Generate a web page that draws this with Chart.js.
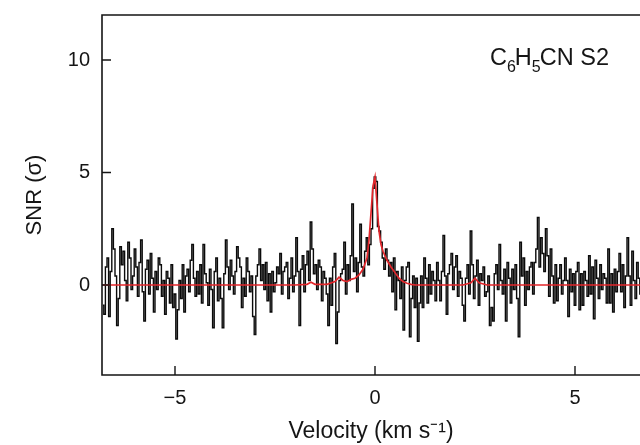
<!DOCTYPE html>
<html>
<head>
<meta charset="utf-8">
<script src="https://cdn.jsdelivr.net/npm/chart.js@4"></script>
<style>
  html, body { margin: 0; padding: 0; background: #fff; overflow: hidden; }
  #c { display: block; }
</style>
</head>
<body>
<canvas id="c" width="640" height="445"></canvas>
<script>
// spectrum channels: start velocity and channel width (km/s)
const velocityStart = -6.8;
const channelWidth = 0.04;
// SNR per channel (10 channels = 0.4 km/s per row)
const snr = [
  -0.9, -1.3, 0.8, 1.2, -1.4, 0.6, 2.5, 1.6, 0.4, -1.8,
  -0.6, 1.7, 0.9, 1.5, 0.2, -0.7, 1.9, 1.2, -0.2, 0.4,
  1.6, 0.8, -0.5, 1.0, 2.0, -0.3, -1.6, 0.7, 1.1, -0.4,
  1.4, 0.3, -1.2, 0.6, -0.2, 1.2, 0.9, -0.5, 0.2, -1.3,
  0.6, 0.3, -0.8, 0.9, -1.0, -0.4, -2.4, -1.1, 0.2, -0.6,
  0.9, -1.2, 0.4, 0.7, -0.3, 1.1, 1.8, 0.3, -0.5, 0.6,
  -0.4, 0.9, -0.8, 1.8, 0.5, 0.1, -0.9, 0.7, -0.2, -1.9,
  0.6, 1.2, -0.7, 0.3, -0.6, -1.9, 0.5, 2.0, 0.8, -0.2,
  1.1, 0.4, -0.4, 0.6, 1.7, 1.2, 0.8, -1.0, 0.3, -0.5,
  1.2, 0.6, -0.3, 0.4, -1.4, -2.2, 0.4, 0.9, 1.6, 0.2,
  0.9, -0.2, 1.0, -0.7, 0.5, -1.2, 0.6, -0.3, 0.1, 0.8,
  0.5, 1.4, -0.4, 0.6, 0.8, 1.0, -0.6, 0.3, 1.2, -0.3,
  0.4, 2.1, 0.6, -1.8, 0.7, 1.3, -0.3, 0.9, 1.5, 0.2,
  2.8, 1.6, 0.5, 0.9, -0.2, 1.1, 0.8, -0.7, 0.6, 0.3,
  -0.4, -1.8, 0.3, -0.9, 0.8, 1.4, -2.6, -1.2, 0.2, 0.5,
  0.7, 1.9, -0.4, 0.9, 0.2, 1.3, 3.6, 0.6, 1.2, -0.3,
  1.0, 2.7, 0.8, 0.4, 1.5, 2.1, 0.9, 1.8, 2.5, 4.3,
  4.8, 4.6, 2.6, 2.4, 1.9, 1.2, 0.7, 1.6, 1.1, 0.4,
  1.0, -0.3, 1.2, -1.1, 0.6, 0.2, -0.6, 0.8, -2.0, 0.2,
  0.8, 1.0, -2.3, -0.6, 0.4, -1.0, 0.3, -2.5, -0.8, 0.4,
  -1.0, 1.2, 0.3, -0.8, 0.9, -0.4, 0.6, 0.2, -0.7, 1.0,
  0.2, -0.7, 0.6, 2.2, 0.4, -1.3, 0.5, 0.9, 1.4, -0.2,
  0.8, 1.3, -0.5, 0.6, 0.3, -0.9, -1.6, 0.3, 0.9, -0.4,
  2.4, 0.9, -0.6, 0.4, 1.1, -0.9, 0.5, 0.2, 0.8, -0.5,
  -0.3, 0.4, -1.8, -1.0, -1.6, 0.5, 0.9, -0.2, 1.8, 0.2,
  -0.4, 0.7, -1.6, 1.0, 0.3, -0.8, 0.7, -0.2, 0.9, -0.6,
  -2.3, 1.9, 0.4, 1.2, -0.9, 0.6, -0.2, 0.8, 1.0, -0.4,
  1.0, 1.6, 3.0, 0.8, 2.1, 1.4, 0.6, 2.5, 1.3, -0.5,
  1.6, 0.4, -0.8, 0.9, -0.7, 0.3, 0.9, -0.4, 0.2, 1.2,
  0.2, -1.4, 0.7, -0.3, 0.5, -0.9, 0.6, 1.0, -1.1, 0.5,
  -0.9, 0.6, 0.2, -0.5, 1.3, -0.4, 0.8, -1.5, 1.1, 0.3,
  -0.6, 0.9, -0.2, 0.5, 0.3, -0.8, 1.6, -0.8, 0.5, -1.2,
  0.7, -0.3, 0.6, 1.4, -0.3, 0.9, -1.0, 0.4, 2.1, 0.4,
  -0.9, 1.5, 0.2, -0.6, 1.0, 0.3, -0.4, 0.8, 0.1, -0.5
];
// model fit (red)
const fitVelocity = [-6.9, -2.0, -1.7, -1.6, -1.5, -1.2, -1.0, -0.9, -0.8, -0.7, -0.6, -0.5, -0.4, -0.3, -0.2, -0.15, -0.1, -0.05, 0, 0.05, 0.1, 0.15, 0.2, 0.3, 0.4, 0.5, 0.6, 0.7, 0.8, 0.9, 1.0, 2.2, 2.4, 2.5, 2.6, 2.8, 6.9];
const fitSnr      = [0, 0, 0.03, 0.12, 0.03, 0.03, 0.15, 0.35, 0.2, 0.15, 0.25, 0.3, 0.45, 0.7, 1.2, 2.0, 3.2, 4.4, 4.8, 3.6, 2.4, 1.8, 1.5, 1.1, 0.8, 0.55, 0.3, 0.15, 0.08, 0.03, 0, 0, 0.1, 0.3, 0.1, 0, 0];
const xTicks = [-5, 0, 5];
const yTicks = [0, 5, 10];

const FONT = '"Liberation Sans", Arial, sans-serif';
const INK = '#151515';

const spectrum = snr.map((v, i) => ({ x: velocityStart + i * channelWidth, y: v }));
const fit = fitVelocity.map((v, i) => ({ x: v, y: fitSnr[i] }));

const frame = {
  id: 'frame',
  afterDatasetsDraw(chart) {
    const { ctx, chartArea: a, scales: { x, y } } = chart;
    ctx.save();
    ctx.strokeStyle = INK;
    ctx.lineWidth = 1.6;
    ctx.beginPath();
    ctx.moveTo(a.right + 2, a.top); ctx.lineTo(a.left, a.top);
    ctx.lineTo(a.left, a.bottom); ctx.lineTo(a.right + 2, a.bottom);
    ctx.stroke();
    // inward ticks
    ctx.lineWidth = 1.4;
    ctx.beginPath();
    xTicks.forEach(t => { const px = x.getPixelForValue(t); ctx.moveTo(px, a.bottom); ctx.lineTo(px, a.bottom - 9); });
    yTicks.forEach(t => { const py = y.getPixelForValue(t); ctx.moveTo(a.left, py); ctx.lineTo(a.left + 9, py); });
    ctx.stroke();
    // label C6H5CN S2
    ctx.fillStyle = INK;
    ctx.textBaseline = 'alphabetic';
    ctx.textAlign = 'left';
    const parts = [['C', 0], ['6', 1], ['H', 0], ['5', 1], ['CN S2', 0]];
    let cx = 490;
    parts.forEach(([s, sub]) => {
      ctx.font = (sub ? '16px ' : '23.5px ') + FONT;
      ctx.fillText(s, cx, sub ? 72 : 65);
      cx += ctx.measureText(s).width - (sub ? 1 : 0);
    });
    ctx.restore();
  }
};

new Chart(document.getElementById('c'), {
  type: 'line',
  data: {
    datasets: [
      { data: fit, borderColor: '#e3262b', borderWidth: 1.7, pointRadius: 0, tension: 0, order: 0 },
      { data: spectrum, borderColor: '#0a0a0a', borderWidth: 1.4, pointRadius: 0, stepped: 'middle', order: 1 }
    ]
  },
  options: {
    responsive: false,
    animation: false,
    devicePixelRatio: 1,
    layout: { padding: { left: 0, right: 0, top: 15, bottom: 0 } },
    plugins: { legend: { display: false }, tooltip: { enabled: false } },
    scales: {
      x: {
        type: 'linear', min: -6.825, max: 6.625,
        afterFit(s) { s.height = 70; s.paddingLeft = 0; s.paddingRight = 0; },
        afterBuildTicks(s) { s.ticks = xTicks.map(v => ({ value: v })); },
        grid: { display: false, drawTicks: false },
        border: { display: false },
        ticks: { padding: 11, color: INK, font: { family: FONT, size: 20 }, maxRotation: 0,
                 callback: v => String(v).replace('-', '\u2212') },
        title: { display: true, text: 'Velocity (km s\u207B\u00B9)', color: INK,
                 font: { family: FONT, size: 23 }, padding: { top: 0, bottom: 0 } }
      },
      y: {
        type: 'linear', min: -4, max: 12,
        afterFit(s) { s.width = 102; s.paddingTop = 0; s.paddingBottom = 0; },
        afterBuildTicks(s) { s.ticks = yTicks.map(v => ({ value: v })); },
        grid: { display: false, drawTicks: false },
        border: { display: false },
        ticks: { padding: 12, color: INK, font: { family: FONT, size: 20 } },
        title: { display: true, text: 'SNR (\u03C3)', color: INK,
                 font: { family: FONT, size: 22 }, padding: { top: 22, bottom: 0 } }
      }
    }
  },
  plugins: [frame]
});
</script>
</body>
</html>
